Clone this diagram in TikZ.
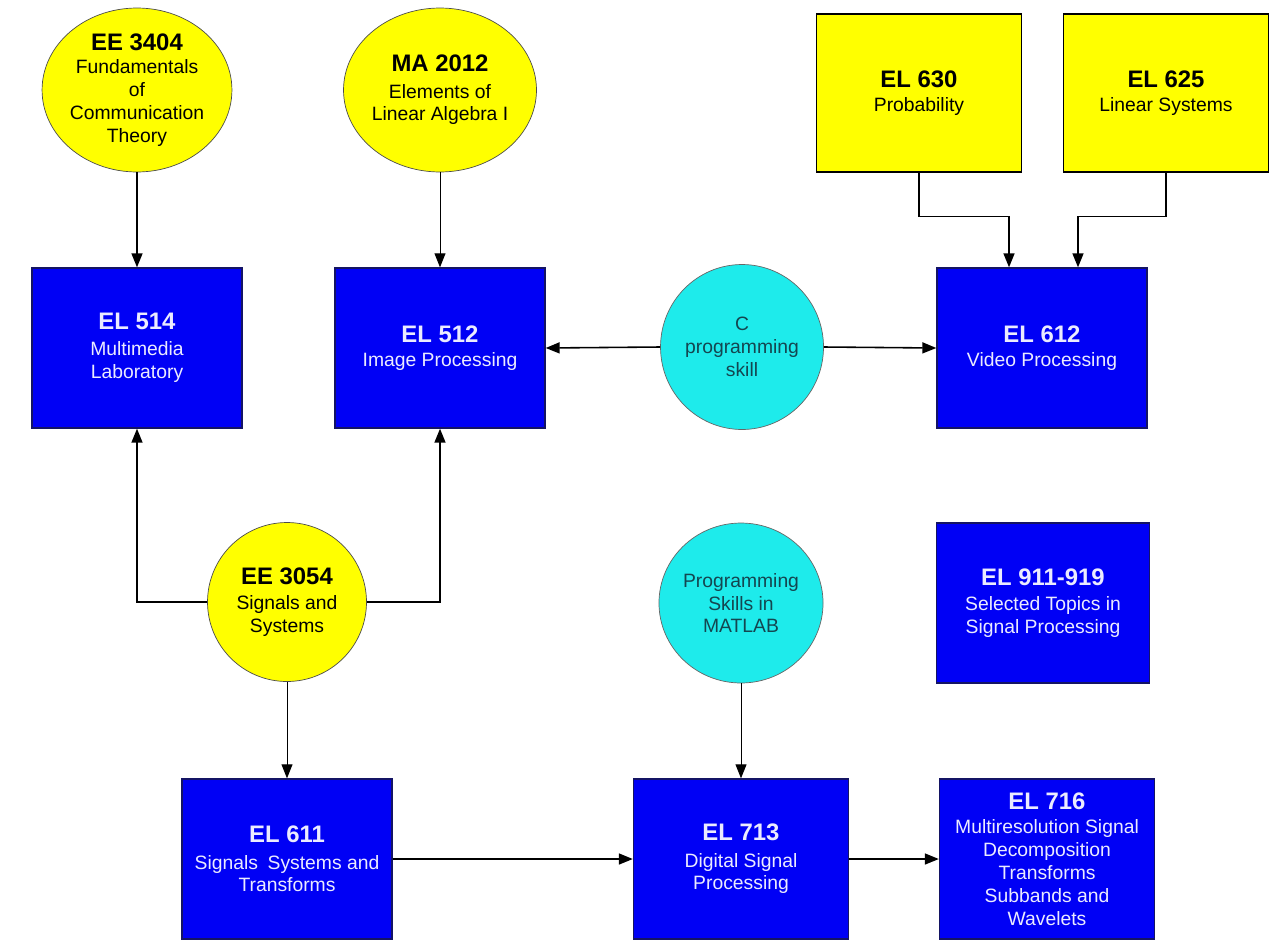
\documentclass[tikz,border=0pt]{standalone}
\usepackage{fontspec}
\setmainfont{Liberation Sans}
\usepackage{tikz}
\usetikzlibrary{arrows.meta,shapes.geometric,positioning}
\definecolor{coursefill}{RGB}{0, 0, 245}
\definecolor{courseline}{RGB}{20, 20, 100}
\definecolor{coursetext}{RGB}{235, 235, 255}
\definecolor{prereqfill}{RGB}{255, 255, 0}
\definecolor{skillfill}{RGB}{30, 235, 235}
\definecolor{skilltext}{RGB}{20, 70, 80}
\newcommand{\cnum}[1]{{\fontsize{13.6}{15}\selectfont\bfseries #1}}

\begin{document}
\begin{tikzpicture}[x=0.02cm, y=-0.02cm,
    course/.style={rectangle, fill=coursefill, draw=courseline, line width=0.8pt,
        text=coursetext, align=center, minimum width=4.2cm, minimum height=3.2cm,
        font=\fontsize{11}{13}\selectfont},
    prereq/.style={ellipse, fill=prereqfill, draw=black!70, line width=0.4pt,
        align=center, inner sep=0pt, minimum width=3.26cm, minimum height=3.28cm,
        font=\fontsize{11}{13}\selectfont},
    extcourse/.style={rectangle, fill=prereqfill, draw=black, line width=0.8pt,
        align=center, minimum width=4.1cm, minimum height=3.16cm,
        font=\fontsize{11}{13}\selectfont},
    skill/.style={ellipse, fill=skillfill, draw=black!60, line width=0.4pt,
        text=skilltext, align=center, inner sep=0pt, minimum width=3.15cm,
        minimum height=3.2cm, font=\fontsize{11}{13}\selectfont},
    link/.style={-{Triangle[length=0.28cm, width=0.22cm]}, line width=0.9pt},
    thinlink/.style={link, line width=0.5pt}]
    \useasboundingbox (0,0) rectangle (1273,943);

    % Prerequisites on top
    \node[prereq] (ee3404) at (137,90) {\cnum{EE 3404}\\Fundamentals\\of\\Communication\\Theory};
    \node[prereq] (ma2012) at (440,90) {\cnum{MA 2012}\\[2pt]Elements of\\Linear Algebra I};
    \node[extcourse] (el630) at (919,93) {\cnum{EL 630}\\[1pt]Probability};
    \node[extcourse] (el625) at (1166,93) {\cnum{EL 625}\\[1pt]Linear Systems};

    % Second row
    \node[course] (el514) at (137,348) {\cnum{EL 514}\\[2pt]Multimedia\\Laboratory};
    \node[course] (el512) at (440,348) {\cnum{EL 512}\\[1pt]Image Processing};
    \node[skill, minimum width=3.26cm, minimum height=3.3cm] (cskill) at (742,347) {C\\programming\\skill};
    \node[course] (el612) at (1042,348) {\cnum{EL 612}\\[1pt]Video Processing};

    % Third row
    \node[prereq, minimum width=3.18cm, minimum height=3.18cm] (ee3054) at (287,602) {\cnum{EE 3054}\\[1pt]Signals and\\Systems};
    \node[skill] (matlab) at (741,603) {Programming\\Skills in\\MATLAB};
    \node[course, minimum width=4.26cm] (el911) at (1043,603) {\cnum{EL 911-919}\\[1pt]Selected Topics in\\Signal Processing};

    % Bottom row
    \node[course] (el611) at (287,859) {\cnum{EL 611}\\[2pt]Signals\enspace Systems and\\Transforms};
    \node[course, minimum width=4.3cm] (el713) at (741,859) {\cnum{EL 713}\\[2pt]Digital Signal\\Processing};
    \node[course, minimum width=4.3cm] (el716) at (1047,859) {\cnum{EL 716}\\[1pt]Multiresolution Signal\\Decomposition\\Transforms\\Subbands and\\Wavelets};

    % Arrows
    \draw[link] (ee3404) -- (el514);
    \draw[thinlink] (ma2012) -- (el512);
    \draw[link] (el630.south) -- ++(0,44) -| ([xshift=-0.66cm]el612.north);
    \draw[link] (el625.south) -- ++(0,44) -| ([xshift=0.72cm]el612.north);
    \draw[link] (cskill.west) -- (el512.east);
    \draw[link] (cskill.east) -- (el612.west);
    \draw[link] (ee3054.west) -| (el514.south);
    \draw[link] (ee3054.east) -| (el512.south);
    \draw[thinlink] (ee3054) -- (el611);
    \draw[thinlink] (matlab) -- (el713);
    \draw[link] (el611) -- (el713);
    \draw[link] (el713) -- (el716);
\end{tikzpicture}
\end{document}
